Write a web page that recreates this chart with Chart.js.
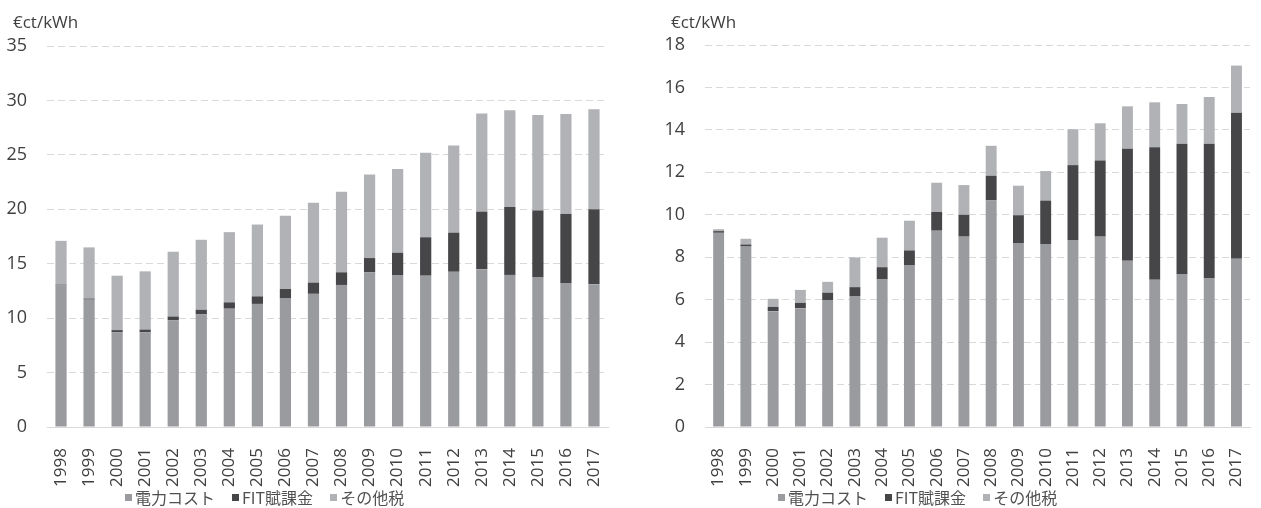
<!DOCTYPE html>
<html lang="ja">
<head>
<meta charset="utf-8">
<title>電気料金の内訳</title>
<script src="https://cdn.jsdelivr.net/npm/chart.js@4.4.1/dist/chart.umd.min.js"></script>
<style>
  html, body { margin: 0; padding: 0; background: #fff; overflow: hidden; }
  body { width: 1261px; height: 508px; position: relative; }
  .panel { position: absolute; top: 0; height: 508px; }
  #panelLeft { left: 0; width: 630px; }
  #panelRight { left: 630px; width: 640px; }
  .legend {
    position: absolute; top: 485px; display: flex; align-items: center;
    font-family: 'Noto Sans CJK JP', 'Noto Sans', sans-serif; font-size: 16px; color: #505050;
    white-space: nowrap; line-height: 24px;
  }
  .legend .item { display: flex; align-items: center; margin-right: 17px; }
  .legend .box { width: 7px; height: 7px; margin-right: 3px; }
  #legendLeft { left: 125px; }
  #legendRight { left: 778px; }
</style>
</head>
<body>
<div class="panel" id="panelLeft"><canvas id="chartLeft"></canvas></div>
<div class="panel" id="panelRight"><canvas id="chartRight"></canvas></div>
<div class="legend" id="legendLeft"></div>
<div class="legend" id="legendRight"></div>
<script>
// Years on the category axis
const years = ['1998','1999','2000','2001','2002','2003','2004','2005','2006','2007',
               '2008','2009','2010','2011','2012','2013','2014','2015','2016','2017'];

// Series names
const seriesNames = ['電力コスト', 'FIT賦課金', 'その他税'];

// FIT levy (€ct/kWh), same for both panels
const fitLevy = [0.08, 0.10, 0.20, 0.25, 0.35, 0.42, 0.58, 0.69, 0.88, 1.03,
                 1.16, 1.31, 2.05, 3.53, 3.59, 5.28, 6.24, 6.17, 6.35, 6.88];

// Left panel: power cost and other taxes (€ct/kWh)
const leftCost  = [13.00, 11.70, 8.70, 8.70, 9.80, 10.35, 10.87, 11.31, 11.80, 12.23,
                   13.05, 14.21, 13.96, 13.90, 14.26, 14.50, 13.97, 13.73, 13.22, 13.12];
const leftOther = [4.02, 4.70, 5.00, 5.35, 5.95, 6.43, 6.45, 6.60, 6.72, 7.34,
                   7.39, 7.68, 7.69, 7.77, 8.00, 9.02, 8.89, 8.75, 9.18, 9.20];

// Right panel: power cost and other taxes (€ct/kWh)
const rightCost  = [9.15, 8.50, 5.46, 5.60, 5.98, 6.17, 6.95, 7.63, 9.25, 8.97,
                    10.68, 8.67, 8.62, 8.81, 8.97, 7.83, 6.94, 7.18, 7.00, 7.93];
const rightOther = [0.09, 0.27, 0.38, 0.61, 0.51, 1.40, 1.39, 1.40, 1.38, 1.40,
                    1.41, 1.39, 1.39, 1.69, 1.75, 2.00, 2.12, 1.87, 2.20, 2.22];

// Y axis ranges
const leftAxis  = { max: 35, step: 5 };
const rightAxis = { max: 18, step: 2 };

const unitLabel = '€ct/kWh';
const colors = ['#9a9b9f', '#464648', '#b1b2b5'];
const numFont = "'Open Sans', 'Noto Sans', sans-serif";
const textColor = '#404040';

Chart.defaults.font.family = numFont;
Chart.defaults.color = textColor;

// Writes the unit above the value axis
const unitPlugin = {
  id: 'unitText',
  afterDraw(chart) {
    const ctx = chart.ctx;
    ctx.save();
    ctx.font = '17px ' + numFont;
    ctx.fillStyle = textColor;
    ctx.textAlign = 'left';
    ctx.textBaseline = 'middle';
    ctx.fillText(unitLabel, chart.chartArea.left - 34, 23);
    ctx.restore();
  }
};

function makeChart(canvasId, cost, other, axis, yWidth, pad) {
  const series = [cost, fitLevy, other];
  return new Chart(document.getElementById(canvasId), {
    type: 'bar',
    data: {
      labels: years,
      datasets: series.map((values, i) => ({
        label: seriesNames[i],
        data: values,
        backgroundColor: colors[i],
        borderWidth: 0,
        categoryPercentage: 1.0,
        barPercentage: 0.4
      }))
    },
    options: {
      responsive: true,
      maintainAspectRatio: false,
      animation: false,
      layout: { padding: pad },
      plugins: { legend: { display: false }, tooltip: { enabled: false } },
      scales: {
        x: {
          stacked: true,
          grid: { display: false },
          border: { display: true, color: '#d9d9d9', width: 1 },
          ticks: {
            minRotation: 90, maxRotation: 90, autoSkip: false,
            padding: 13, color: textColor, font: { size: 17 }
          },
          afterFit(scale) { scale.height = 81; }
        },
        y: {
          stacked: true,
          min: 0, max: axis.max,
          grid: { color: '#d9d9d9', lineWidth: 1, drawTicks: false },
          border: { display: false, dash: [7, 4] },
          ticks: { stepSize: axis.step, padding: 20, color: textColor, font: { size: 18 } },
          afterFit(scale) { scale.width = yWidth; }
        }
      }
    },
    plugins: [unitPlugin]
  });
}

makeChart('chartLeft', leftCost, leftOther, leftAxis, 47, { top: 46, right: 22, left: 0, bottom: 0 });
makeChart('chartRight', rightCost, rightOther, rightAxis, 75, { top: 45, right: 5, left: 0, bottom: 0 });

// Legends
function buildLegend(id) {
  const el = document.getElementById(id);
  seriesNames.forEach((name, i) => {
    const item = document.createElement('span');
    item.className = 'item';
    const box = document.createElement('span');
    box.className = 'box';
    box.style.background = colors[i];
    const txt = document.createElement('span');
    txt.textContent = name;
    item.appendChild(box);
    item.appendChild(txt);
    el.appendChild(item);
  });
}
buildLegend('legendLeft');
buildLegend('legendRight');
</script>
</body>
</html>
